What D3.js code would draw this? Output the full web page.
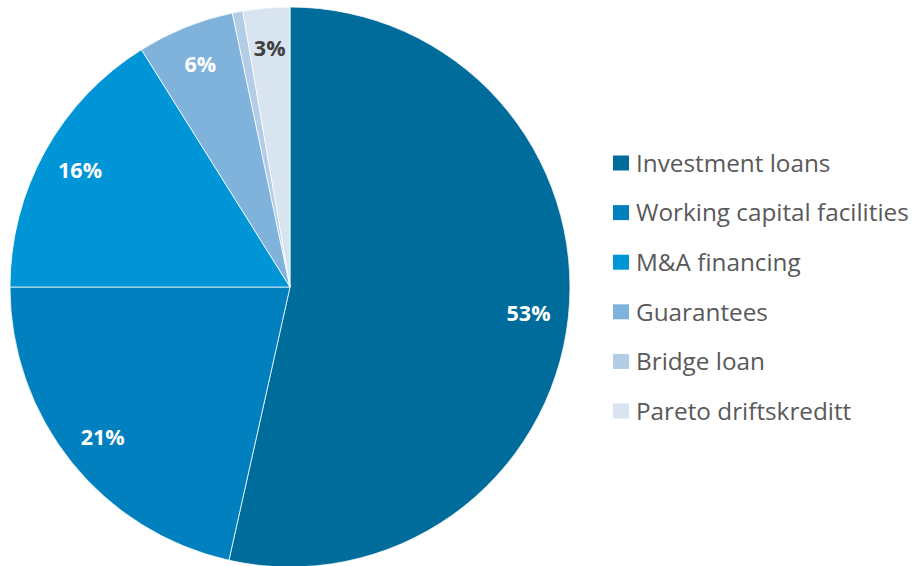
<!DOCTYPE html>
<html>
<head>
<meta charset="utf-8">
<script src="https://cdn.jsdelivr.net/npm/d3@7"></script>
<style>
  body { margin: 0; background: #fff; }
  svg { display: block; }
</style>
</head>
<body>
<svg id="chart"></svg>
<script>
// loan portfolio split (shares in %)
const categories = ['Investment loans', 'Working capital facilities', 'M&A financing', 'Guarantees', 'Bridge loan', 'Pareto driftskreditt']
const values = [53.5, 21.5, 16.1, 5.6, 0.6, 2.7]
const labels = ['53%', '21%', '16%', '6%', '', '3%']
const colors = ['#006c9c', '#0080bf', '#0095d6', '#80b3db', '#b3cde6', '#d8e4f0']
const labelColors = ['#fff', '#fff', '#fff', '#fff', '#fff', '#404040']

const width = 915, height = 566
const cx = 290, cy = 287, radius = 280
const font = '"Open Sans", Lato, sans-serif'

const svg = d3.select('#chart').attr('width', width).attr('height', height)

const data = categories.map((c, i) => ({ name: c, value: values[i], label: labels[i], i: i }))

const pie = d3.pie().sort(null).value(d => d.value)
const arc = d3.arc().innerRadius(0).outerRadius(radius)
const labelArc = d3.arc().innerRadius(240).outerRadius(240)

const g = svg.append('g').attr('transform', 'translate(' + cx + ',' + cy + ')')
const arcs = pie(data)

g.selectAll('path').data(arcs)
    .enter().append('path')
    .attr('d', arc)
    .attr('fill', d => colors[d.data.i])
    .attr('stroke', '#fff')
    .attr('stroke-width', 0.75)

g.selectAll('text').data(arcs)
    .enter().append('text')
    .attr('transform', d => 'translate(' + labelArc.centroid(d) + ')')
    .attr('text-anchor', 'middle')
    .attr('dy', '0.36em')
    .attr('font-family', font)
    .attr('font-weight', 'bold')
    .attr('font-size', 21.5)
    .attr('fill', d => labelColors[d.data.i])
    .text(d => d.data.label)

// legend
const legend = svg.append('g').attr('transform', 'translate(613,163)')
const row = legend.selectAll('g').data(data)
    .enter().append('g')
    .attr('transform', (d, i) => 'translate(0,' + (i * 49.6) + ')')

row.append('rect')
    .attr('x', 0).attr('y', -7.5)
    .attr('width', 16).attr('height', 15)
    .attr('fill', d => colors[d.i])

row.append('text')
    .attr('x', 23)
    .attr('dy', '0.36em')
    .attr('font-family', font)
    .attr('font-size', 24.3)
    .attr('fill', '#595959')
    .text(d => d.name)
</script>
</body>
</html>
